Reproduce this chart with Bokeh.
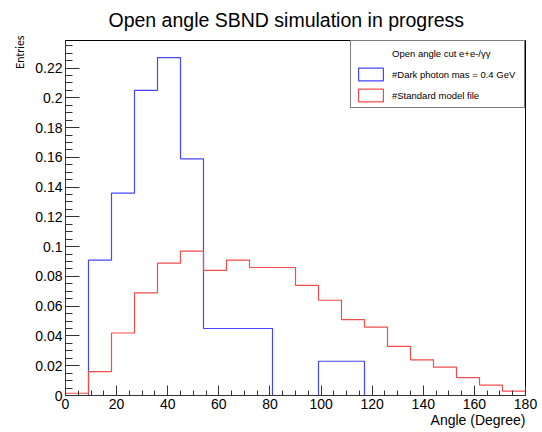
from bokeh.plotting import figure
from bokeh.models import (Range1d, SingleIntervalTicker, CustomJSTickFormatter, Title,
                          Legend, LegendItem, ColumnDataSource)
from bokeh.embed import file_html
from bokeh.resources import INLINE

# Opening-angle histograms, 20 bins of 9 degrees, normalised to unit area
bin_width = 9
dark_photon = [0.0, 0.091, 0.136, 0.205, 0.227, 0.159, 0.045, 0.045, 0.045, 0.0,
               0.0, 0.023, 0.023, 0.0, 0.0, 0.0, 0.0, 0.0, 0.0, 0.0]
standard_model = [0.0015, 0.016, 0.042, 0.069, 0.089, 0.097, 0.084, 0.091, 0.086, 0.086,
                  0.074, 0.064, 0.051, 0.046, 0.033, 0.024, 0.019, 0.012, 0.007, 0.003]
edges = [i * bin_width for i in range(len(dark_photon) + 1)]

title_text = "Open angle SBND simulation in progress"
legend_header = "Open angle cut e+e-/\u03b3\u03b3"
label_dark = "#Dark photon mas = 0.4 GeV"
label_sm = "#Standard model file"

BLUE = "#4646ff"
RED = "#f24c4c"
FONT = "Liberation Sans"

X_MAX = 180
Y_MAX = 0.2385

p = figure(width=542, height=432, output_backend="svg", toolbar_location=None, title=None,
           x_range=Range1d(0, X_MAX), y_range=Range1d(0, Y_MAX),
           min_border_left=65, min_border_right=17, min_border_top=40, min_border_bottom=37)

p.xgrid.visible = False
p.ygrid.visible = False
p.outline_line_color = "black"
p.outline_line_width = 1
p.background_fill_color = "white"
p.border_fill_color = "white"

p.xaxis.ticker = SingleIntervalTicker(interval=20, num_minor_ticks=4)
p.yaxis.ticker = SingleIntervalTicker(interval=0.02, num_minor_ticks=4)
p.yaxis.formatter = CustomJSTickFormatter(code="return String(Number(tick.toFixed(3)));")

for ax, major, minor in ((p.xaxis, 10, 5), (p.yaxis, 14, 7)):
    ax.major_tick_in = major
    ax.major_tick_out = 0
    ax.minor_tick_in = minor
    ax.minor_tick_out = 0
    ax.axis_line_color = "#333333"
    ax.major_tick_line_color = "#333333"
    ax.minor_tick_line_color = "#333333"
    ax.major_label_text_font = FONT
    ax.major_label_text_font_size = "14px"
    ax.major_label_text_color = "black"
    ax.major_label_standoff = 3

# Canvas title, left-aligned with an offset from the frame edge
p.add_layout(Title(text=title_text, align="left", offset=43, vertical_align="top",
                   text_font=FONT, text_font_style="normal", text_font_size="19.5px",
                   text_color="black", standoff=15), "above")
p.add_layout(Title(text="Entries", align="right", offset=-5, text_font="Lato",
                   text_font_style="normal", text_font_size="11px", text_color="black",
                   standoff=14), "left")
p.add_layout(Title(text="Angle (Degree)", align="right", vertical_align="top", text_font=FONT,
                   text_font_style="normal", text_font_size="14px", text_color="black",
                   standoff=0), "below")

# Histogram outlines
p.step(x=edges, y=dark_photon + [0.0], mode="after", line_color=BLUE, line_width=1.2)
p.step(x=edges, y=standard_model + [0.0], mode="after", line_color=RED, line_width=1.2)

# Hidden bin boxes: not drawn in the frame, they only give the legend its box swatches
def swatch(values, color):
    src = ColumnDataSource(dict(left=edges[:-1], right=edges[1:], top=values,
                                bottom=[0.0] * len(values)))
    r = p.quad(left="left", right="right", top="top", bottom="bottom", source=src,
               fill_color=None, line_color=color, line_width=1.2)
    r.visible = False
    return r

# First legend row carries the header text only
legend = Legend(items=[LegendItem(label=legend_header, renderers=[]),
                       LegendItem(label=label_dark, renderers=[swatch(dark_photon, BLUE)]),
                       LegendItem(label=label_sm, renderers=[swatch(standard_model, RED)])],
                location="top_right", margin=0, padding=4, spacing=5,
                glyph_width=31, glyph_height=16, label_height=16, label_width=128,
                label_standoff=6, label_text_font=FONT, label_text_font_size="9.5px",
                label_text_color="black",
                border_line_color="black", border_line_width=1,
                background_fill_color="white", background_fill_alpha=1)
p.add_layout(legend)

open("out.html", "w").write(file_html(p, INLINE))
